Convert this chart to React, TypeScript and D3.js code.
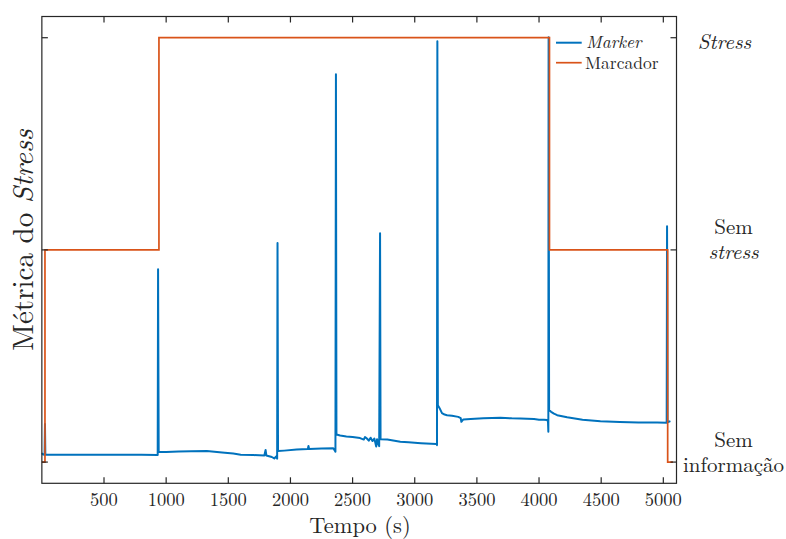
import React from 'react';
import * as d3 from 'd3';

const W = 786;
const H = 539;

// x-axis tick values (seconds)
const xTickValues = [500, 1000, 1500, 2000, 2500, 3000, 3500, 4000, 4500, 5000];
// marker levels: 0 = Sem informação, 1 = Sem stress, 2 = Stress
const levelTicks = [0, 1, 2];

// "Marker" — stress metric (blue)
const markerTime = [
  0, 10, 22, 25, 28, 200, 400, 600, 800, 932,
  935, 940, 1000, 1100, 1200, 1327, 1450, 1540, 1600, 1700,
  1790, 1800, 1806, 1850, 1870, 1885, 1893, 1896, 1900, 1950,
  2050, 2140, 2145, 2150, 2250, 2345, 2362, 2366, 2370, 2400,
  2450, 2500, 2560, 2590, 2600, 2615, 2630, 2645, 2660, 2675,
  2690, 2697, 2705, 2714, 2721, 2725, 2780, 2884, 2950, 3050,
  3174, 3179, 3182, 3186, 3200, 3219, 3240, 3260, 3300, 3350,
  3370, 3375, 3391, 3450, 3552, 3620, 3689, 3780, 3850, 3904,
  3960, 4000, 4040, 4065, 4072, 4075, 4077, 4081, 4097, 4120,
  4146, 4226, 4350, 4494, 4650, 4800, 4950, 5027, 5030, 5034,
  5057,
];
const markerValue = [
  0.042, 0.036, 0.035, 0.179, 0.035, 0.034, 0.035, 0.034, 0.034, 0.033,
  0.909, 0.049, 0.048, 0.050, 0.051, 0.052, 0.045, 0.040, 0.035, 0.033,
  0.031, 0.057, 0.031, 0.024, 0.017, 0.026, 0.016, 1.032, 0.052, 0.054,
  0.059, 0.062, 0.076, 0.062, 0.064, 0.065, 0.049, 1.828, 0.130, 0.125,
  0.121, 0.118, 0.113, 0.106, 0.118, 0.111, 0.101, 0.115, 0.099, 0.111,
  0.073, 0.108, 0.087, 0.075, 1.079, 0.108, 0.106, 0.096, 0.093, 0.089,
  0.085, 0.080, 1.983, 0.268, 0.254, 0.231, 0.224, 0.221, 0.218, 0.213,
  0.207, 0.190, 0.201, 0.203, 0.206, 0.208, 0.209, 0.206, 0.205, 0.204,
  0.203, 0.200, 0.199, 0.198, 0.191, 0.143, 2.002, 0.245, 0.237, 0.228,
  0.221, 0.211, 0.200, 0.193, 0.189, 0.187, 0.186, 0.185, 1.112, 0.188,
  0.193,
];

// "Marcador" — ground-truth label (orange), step function
const stepTime = [0, 25, 942, 4084, 5035, 5078];
const stepLevel = [0, 1, 2, 1, 0, 0];

// right-side level labels
const levelLabels = [
  { level: 2, lines: [{ t: 'Stress', italic: true }] },
  { level: 1, lines: [{ t: 'Sem', italic: false }, { t: 'stress', italic: true }] },
  { level: 0, lines: [{ t: 'Sem', italic: false }, { t: 'informação', italic: false }] },
];

const BLUE = '#0072BD';
const ORANGE = '#D95319';
const INK = '#262626';
const FONT = "'Latin Modern Roman'";

export default function App() {
  const left = 41.86;
  const right = 676.5;
  const top = 16.5;
  const bottom = 483.3;

  const x = d3.scaleLinear().domain([0, 5106]).range([left, right]);
  const y = d3.scaleLinear().domain([-0.1, 2.1]).range([bottom, top]);

  const markerPts: [number, number][] = markerTime.map((t, i) => [t, markerValue[i]]);
  const stepPts: [number, number][] = stepTime.map((t, i) => [t, stepLevel[i]]);

  const line = d3.line<[number, number]>().x(d => x(d[0])).y(d => y(d[1]));
  const stepLine = d3
    .line<[number, number]>()
    .x(d => x(d[0]))
    .y(d => y(d[1]))
    .curve(d3.curveStepAfter);

  const tickLen = 6;
  const txt = { fontFamily: FONT, fill: INK } as React.CSSProperties;

  return (
    <svg
      width={W}
      height={H}
      style={{ position: 'absolute', left: 0, top: 0, background: '#fff' }}
    >
      <rect x={0} y={0} width={W} height={H} fill="#fff" />

      {/* data */}
      <path d={line(markerPts) || ''} fill="none" stroke={BLUE} strokeWidth={2} strokeLinejoin="round" />
      <path d={stepLine(stepPts) || ''} fill="none" stroke={ORANGE} strokeWidth={1.7} />

      {/* frame */}
      <rect x={left} y={top} width={right - left} height={bottom - top} fill="none" stroke={INK} strokeWidth={1.2} />

      {/* x ticks bottom & top */}
      {xTickValues.map(v => (
        <g key={'xt' + v}>
          <line x1={x(v)} x2={x(v)} y1={bottom} y2={bottom - tickLen} stroke={INK} strokeWidth={1.2} />
          <line x1={x(v)} x2={x(v)} y1={top} y2={top + tickLen} stroke={INK} strokeWidth={1.2} />
          <text x={x(v)} y={506} textAnchor="middle" fontSize={18.5} style={txt}>
            {v}
          </text>
        </g>
      ))}

      {/* y ticks left & right */}
      {levelTicks.map(v => (
        <g key={'yt' + v}>
          <line x1={left} x2={left + tickLen} y1={y(v)} y2={y(v)} stroke={INK} strokeWidth={1.2} />
          <line x1={right} x2={right - tickLen} y1={y(v)} y2={y(v)} stroke={INK} strokeWidth={1.2} />
        </g>
      ))}

      {/* right level labels */}
      {levelLabels.map(l => {
        const n = l.lines.length;
        const cx = n === 1 ? 724.5 : 733.5;
        const base = n === 1 ? y(l.level) + 11 : y(l.level) - 15.5;
        return (
          <g key={'ll' + l.level}>
            {l.lines.map((ln, i) => (
              <text
                key={i}
                x={cx}
                y={base + i * 25}
                textAnchor="middle"
                fontSize={21}
                style={{ ...txt, fontStyle: ln.italic ? 'italic' : 'normal' }}
              >
                {ln.t}
              </text>
            ))}
          </g>
        );
      })}

      {/* axis labels */}
      <text x={360} y={533} textAnchor="middle" fontSize={22.5} style={txt}>
        Tempo (s)
      </text>
      <text
        transform={`translate(33, 240) rotate(-90)`}
        textAnchor="middle"
        fontSize={29}
        style={txt}
      >
        Métrica do <tspan style={{ fontStyle: 'italic' }}>Stress</tspan>
      </text>

      {/* legend */}
      <line x1={556} x2={581.7} y1={42.7} y2={42.7} stroke={BLUE} strokeWidth={2} />
      <text x={586} y={48.3} fontSize={17.5} style={{ ...txt, fontStyle: 'italic' }}>
        Marker
      </text>
      <line x1={556} x2={581.7} y1={62.7} y2={62.7} stroke={ORANGE} strokeWidth={1.7} />
      <text x={585} y={68.5} fontSize={17.5} style={txt}>
        Marcador
      </text>
    </svg>
  );
}
